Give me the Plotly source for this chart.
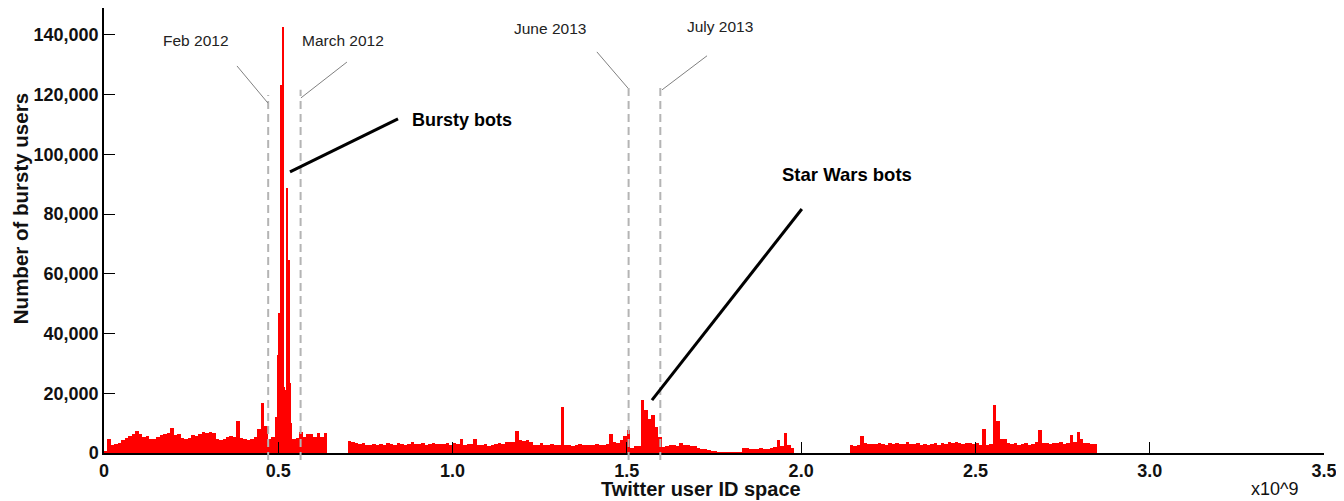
import plotly.graph_objects as go

# ---------------- data (x in units of 10^9 Twitter user IDs, y in thousands) ----------------
BIN_W = 0.01

SEG_A_START = 0.00
SEG_A = [0.5, 4.7, 2.8, 3.0, 3.4, 4.2, 5.0, 5.6, 6.4, 7.5,
         6.2, 5.5, 5.8, 4.8, 4.6, 5.2, 6.0, 6.3, 6.8, 8.4,
         6.0, 6.2, 5.1, 4.8, 5.0, 5.9, 5.6, 6.5, 7.0, 6.6,
         7.2, 6.8, 4.8, 4.4, 4.6, 5.2, 5.6, 5.4, 10.6, 5.0,
         4.6, 4.3, 4.6, 5.5, 8.0, 16.8, 9.0, 4.6, 5.5, 12.0,
         40.0, 22.0, 21.0, 10.0, 4.8, 5.0, 7.0, 5.4, 6.5, 6.2,
         5.4, 6.6, 5.2, 6.8]

SEG_B_START = 0.70
SEG_B = [4.0, 3.8, 3.3, 3.0, 3.2, 2.8, 2.6, 2.9, 2.7, 3.0,
         2.8, 3.2, 3.0, 2.7, 3.4, 2.9, 2.8, 3.1, 3.6, 2.9,
         3.0, 3.3, 2.8, 3.0, 3.5, 2.9, 3.1, 3.0, 3.4, 2.8,
         3.3, 3.0, 4.8, 2.8, 2.9, 3.0, 4.8, 2.8, 2.6, 3.0,
         2.5, 2.6, 2.9, 3.2, 3.1, 3.6, 3.8, 3.8, 7.4, 4.2,
         4.0, 4.4, 3.8, 2.8, 2.6, 3.2, 2.8, 2.6, 2.9, 2.7,
         2.8, 15.3, 2.6, 2.8, 2.5, 2.7, 2.9, 2.6, 2.8, 2.6,
         2.7, 2.9, 2.6, 2.8, 3.0, 6.4, 3.6, 3.2, 4.2, 5.6,
         7.8, 1.6, 2.2, 2.2, 17.6, 14.5, 11.5, 12.6, 8.7, 5.4,
         2.0, 2.2, 2.6, 2.8, 2.5, 3.2, 2.6, 2.7, 2.4, 2.5,
         1.6, 1.4, 1.2, 0.9, 0.6, 0.4, 0.2, 0.3, 0.2, 0.1,
         0.3, 0.2, 0.2, 1.8, 1.6, 1.4, 1.5, 1.3, 1.6, 1.4,
         1.5, 1.7, 2.0, 4.2, 2.2, 6.7, 2.6, 1.8]

SEG_C_START = 2.14
SEG_C = [2.6, 2.5, 2.8, 5.6, 3.3, 3.0, 3.1, 2.9, 3.2, 3.0,
         2.8, 3.3, 3.0, 3.4, 2.9, 3.1, 3.6, 2.9, 3.0, 3.4,
         2.8, 3.0, 2.7, 2.9, 3.2, 2.8, 3.3, 3.0, 3.6, 3.2,
         3.7, 3.4, 3.0, 3.5, 3.3, 3.0, 3.2, 2.8, 8.1, 2.7,
         3.0, 16.0, 10.7, 4.8, 4.6, 3.4, 2.9, 3.3, 2.6, 3.0,
         3.5, 2.8, 3.1, 3.6, 7.6, 3.4, 3.2, 3.0, 3.5, 3.3,
         3.6, 3.0, 3.4, 5.9, 3.8, 7.0, 4.8, 3.2, 3.2, 2.9, 3.0]

# narrow spikes of the "bursty bots" burst
SPIKE_X = [0.499, 0.503, 0.507, 0.514, 0.524, 0.532, 0.534]
SPIKE_Y = [32.8, 46.8, 123.2, 142.5, 88.7, 64.6, 23.4]

X_TICKS = [0, 0.5, 1.0, 1.5, 2.0, 2.5, 3.0, 3.5]
X_TICK_TEXT = ["0", "0.5", "1.0", "1.5", "2.0", "2.5", "3.0", "3.5"]
Y_TICKS = [0, 20000, 40000, 60000, 80000, 100000, 120000, 140000]
Y_TICK_TEXT = ["0", "20,000", "40,000", "60,000", "80,000", "100,000", "120,000", "140,000"]

# month markers: label, x of dashed line, top of dashed line
MARK_LABEL = ["Feb 2012", "March 2012", "June 2013", "July 2013"]
MARK_X = [0.471, 0.564, 1.505, 1.596]
MARK_TOP = [119900, 121600, 123200, 122400]
MARK_TEXT_X = [0.264, 0.686, 1.279, 1.767]
MARK_TEXT_Y = [138000, 138000, 142300, 142700]
CONN_X0 = [0.3815, 0.697, 1.414, 1.730]
CONN_Y0 = [129600, 130900, 134300, 133000]
CONN_X1 = [0.470, 0.565, 1.503, 1.601]
CONN_Y1 = [117200, 118900, 122200, 121600]

YMAX = 149000
XMAX = 3.5

# ---------------- figure ----------------
FONT = "Liberation Sans, Arial, Helvetica, sans-serif"
RED = "#ff0000"
TXT = "#111111"

fig = go.Figure()

for start, vals in [(SEG_A_START, SEG_A), (SEG_B_START, SEG_B), (SEG_C_START, SEG_C)]:
    xs = [round(start + i * BIN_W, 4) for i in range(len(vals))]
    ys = [v * 1000 for v in vals]
    fig.add_trace(go.Bar(x=xs, y=ys, width=BIN_W, offset=0,
                         marker=dict(color=RED, line=dict(width=0)),
                         showlegend=False, hoverinfo="skip"))

fig.add_trace(go.Bar(x=SPIKE_X, y=[v * 1000 for v in SPIKE_Y], width=0.0032,
                     marker=dict(color=RED, line=dict(width=0)),
                     showlegend=False, hoverinfo="skip"))

shapes = []
annotations = []
for i, lab in enumerate(MARK_LABEL):
    shapes.append(dict(type="line", xref="x", yref="paper",
                       x0=MARK_X[i], x1=MARK_X[i], y0=-0.016, y1=MARK_TOP[i] / YMAX,
                       line=dict(color="#b4b4b4", width=2, dash="8px,5px"), layer="above"))
    shapes.append(dict(type="line", xref="x", yref="y",
                       x0=CONN_X0[i], y0=CONN_Y0[i], x1=CONN_X1[i], y1=CONN_Y1[i],
                       line=dict(color="#808080", width=1), layer="above"))
    annotations.append(dict(x=MARK_TEXT_X[i], y=MARK_TEXT_Y[i], xref="x", yref="y",
                            text=lab, showarrow=False,
                            font=dict(family=FONT, size=15.5, color="#222222")))

# callouts
shapes.append(dict(type="line", xref="x", yref="y", x0=0.5336, y0=94100, x1=0.8434, y1=111900,
                   line=dict(color="black", width=3), layer="above"))
shapes.append(dict(type="line", xref="x", yref="y", x0=1.572, y0=17700, x1=2.002, y1=81700,
                   line=dict(color="black", width=3), layer="above"))
annotations.append(dict(x=1.027, y=111500, xref="x", yref="y", text="<b>Bursty bots</b>",
                        showarrow=False, font=dict(family=FONT, size=18, color="black")))
annotations.append(dict(x=2.131, y=93400, xref="x", yref="y", text="<b>Star Wars bots</b>",
                        showarrow=False, font=dict(family=FONT, size=18.5, color="black")))
annotations.append(dict(x=0.9598, y=-0.081, xref="paper", yref="paper", text="x10^9",
                        xanchor="center", yanchor="middle",
                        showarrow=False, font=dict(family=FONT, size=18, color=TXT)))
# axis titles
annotations.append(dict(x=0.489, y=-0.082, xref="paper", yref="paper",
                        xanchor="center", yanchor="middle",
                        text="<b>Twitter user ID space</b>", showarrow=False,
                        font=dict(family=FONT, size=20, color=TXT)))
annotations.append(dict(x=-0.0689, y=0.55, xref="paper", yref="paper", textangle=-90,
                        xanchor="center", yanchor="middle",
                        text="<b>Number of bursty users</b>", showarrow=False,
                        font=dict(family=FONT, size=20.5, color=TXT)))

fig.update_layout(
    width=1336, height=493,
    margin=dict(l=96, r=20, t=0, b=48),
    plot_bgcolor="white", paper_bgcolor="white",
    barmode="overlay", bargap=0,
    font=dict(family=FONT, color=TXT),
    shapes=shapes, annotations=annotations,
    xaxis=dict(range=[0, XMAX], tickvals=X_TICKS, ticktext=X_TICK_TEXT,
               ticks="inside", ticklen=11, tickwidth=1.2, tickcolor="black",
               showline=True, linecolor="black", linewidth=2, showgrid=False, zeroline=False,
               tickfont=dict(family=FONT, size=18, color=TXT, weight="bold")),
    yaxis=dict(range=[0, YMAX], tickvals=Y_TICKS, ticktext=Y_TICK_TEXT,
               ticks="inside", ticklen=11, tickwidth=1.2, tickcolor="black",
               showline=True, linecolor="black", linewidth=1.5, showgrid=False, zeroline=False,
               tickfont=dict(family=FONT, size=18, color=TXT, weight="bold")),
)

fig.write_html("out.html")
